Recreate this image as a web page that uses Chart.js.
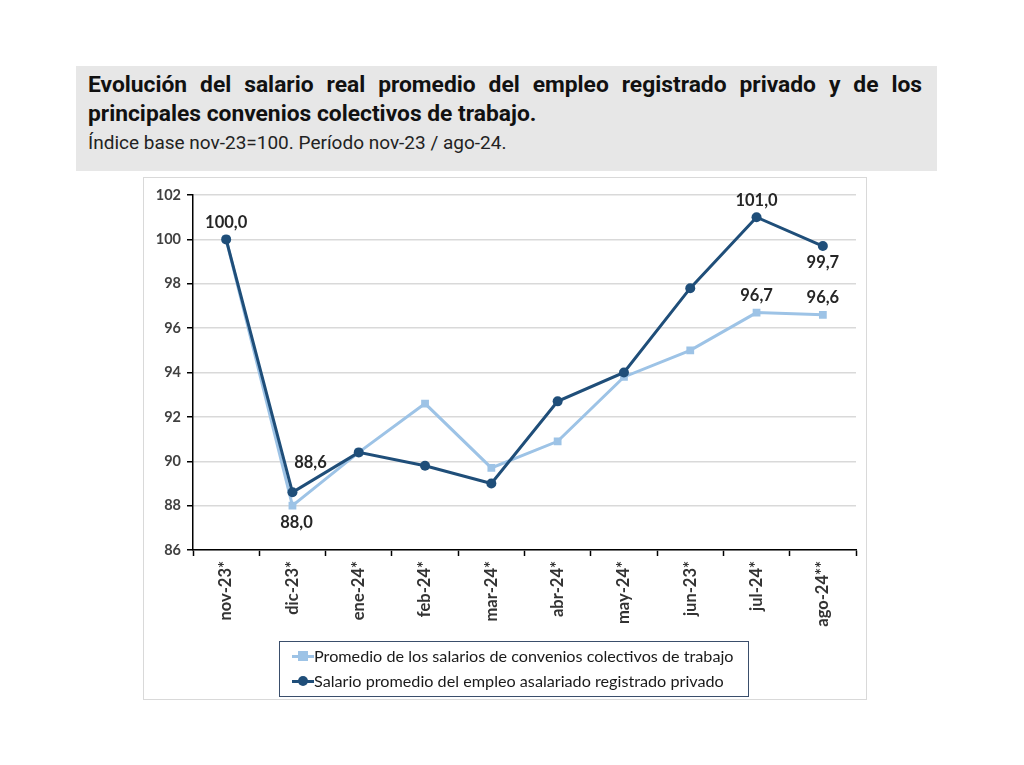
<!DOCTYPE html>
<html>
<head>
<meta charset="utf-8">
<script src="https://cdn.jsdelivr.net/npm/chart.js@4.4.1/dist/chart.umd.min.js"></script>
<style>
  body { margin: 0; background: #fff; width: 1024px; height: 765px; position: relative; overflow: hidden; }
  #header { position: absolute; left: 76px; top: 66px; width: 861px; height: 105px; background: #e7e7e7; }
  .tline { position: absolute; left: 12px; width: 834px; font: bold 22.8px Roboto, sans-serif; line-height: 29px; color: #111; white-space: nowrap; }
  #t1 { top: 4px; text-align: justify; text-align-last: justify; white-space: normal; }
  #t2 { top: 33px; }
  #subtitle { position: absolute; left: 12px; top: 65px; font: 19px Roboto, sans-serif; color: #222; }
  #frame { position: absolute; left: 143px; top: 177px; width: 722px; height: 521px; border: 1px solid #d9d9d9; }
  #chartWrap { position: absolute; left: 0; top: 0; width: 722px; height: 521px; }
  #legend { position: absolute; left: 135px; top: 463px; width: 468px; height: 54px; border: 1px solid #3a4e6b; font: 16.2px Lato, sans-serif; color: #1a1a1a; }
  .item { position: absolute; left: 12px; height: 20px; line-height: 20px; white-space: nowrap; }
  .icon { display: inline-block; position: relative; width: 22px; height: 20px; vertical-align: top; }
  .icon .ln { position: absolute; left: 0; top: 9px; width: 22px; height: 3px; }
  .icon .mk { position: absolute; left: 6px; top: 5px; width: 10px; height: 10px; }
</style>
</head>
<body>
<div id="header">
  <div id="t1" class="tline">Evolución del salario real promedio del empleo registrado privado y de los</div>
  <div id="t2" class="tline">principales convenios colectivos de trabajo.</div>
  <div id="subtitle">Índice base nov-23=100. Período nov-23 / ago-24.</div>
</div>
<div id="frame">
  <div id="chartWrap"><canvas id="lineChart"></canvas></div>
  <div id="legend">
    <div class="item" style="top:4px"><span class="icon"><span class="ln" style="background:#9dc3e6"></span><span class="mk" style="background:#9dc3e6"></span></span><span id="leg0"></span></div>
    <div class="item" style="top:29px"><span class="icon"><span class="ln" style="background:#1f4e79"></span><span class="mk" style="background:#1f4e79;border-radius:50%"></span></span><span id="leg1"></span></div>
  </div>
</div>
<script>
const months = ['nov-23*', 'dic-23*', 'ene-24*', 'feb-24*', 'mar-24*', 'abr-24*', 'may-24*', 'jun-23*', 'jul-24*', 'ago-24**'];

// convenios colectivos (light blue, squares)
const convenios = [100.0, 88.0, 90.4, 92.6, 89.7, 90.9, 93.8, 95.0, 96.7, 96.6];
// empleo asalariado registrado privado (navy, circles)
const salario = [100.0, 88.6, 90.4, 89.8, 89.0, 92.7, 94.0, 97.8, 101.0, 99.7];

const names = ['Promedio de los salarios de convenios colectivos de trabajo', 'Salario promedio del empleo asalariado registrado privado'];

// which points get a value label: [dataset, index, position]
const shownLabels = [
    [1, 0, 'above'],
    [1, 1, 'aboveRight'],
    [0, 1, 'below'],
    [1, 8, 'above'],
    [1, 9, 'below'],
    [0, 8, 'above'],
    [0, 9, 'above']
];

document.getElementById('leg0').textContent = names[0];
document.getElementById('leg1').textContent = names[1];

const valueLabels = {
    id: 'valueLabels',
    afterDatasetsDraw(chart) {
        const ctx = chart.ctx;
        ctx.save();
        ctx.font = 'bold 16.5px Lato, sans-serif';
        ctx.fillStyle = '#262626';
        ctx.textAlign = 'center';
        ctx.textBaseline = 'middle';
        shownLabels.forEach(([ds, i, pos]) => {
            const pt = chart.getDatasetMeta(ds).data[i];
            const txt = chart.data.datasets[ds].data[i].toFixed(1).replace('.', ',');
            let dx = 0, dy = -17;
            if (pos === 'below') dy = 17;
            if (pos === 'aboveRight') { dx = 18; dy = -30; }
            if (ds === 0 && i === 1) dx = 4;
            ctx.fillText(txt, pt.x + dx, pt.y + dy);
        });
        ctx.restore();
    }
};

const CHART = document.getElementById('lineChart');
let lineChart = new Chart(CHART, {
    type: 'line',
    data: {
        labels: months,
        datasets: [
            {
                label: names[0],
                data: convenios,
                order: 1,
                borderColor: '#9dc3e6',
                backgroundColor: '#9dc3e6',
                borderWidth: 3,
                pointStyle: 'rect',
                pointRadius: 5.5,
                pointBorderWidth: 0,
                tension: 0
            },
            {
                label: names[1],
                data: salario,
                order: 0,
                borderColor: '#1f4e79',
                backgroundColor: '#1f4e79',
                borderWidth: 3,
                pointStyle: 'circle',
                pointRadius: 5,
                pointBorderWidth: 0,
                tension: 0
            }
        ]
    },
    options: {
        responsive: true,
        maintainAspectRatio: false,
        animation: false,
        layout: { padding: { left: 6, top: 17, right: 10, bottom: 57 } },
        plugins: {
            legend: { display: false },
            tooltip: { enabled: false }
        },
        scales: {
            x: {
                offset: true,
                grid: { offset: true, drawOnChartArea: false, drawTicks: true, tickLength: 6, tickColor: '#000', tickWidth: 1.5 },
                border: { color: '#000', width: 1.5 },
                ticks: { minRotation: 90, maxRotation: 90, color: '#333', font: { family: 'Lato, sans-serif', size: 16.5, weight: 'bold' }, padding: 5 },
                afterFit: (scale) => { scale.height = 92; }
            },
            y: {
                min: 86,
                max: 102,
                ticks: { stepSize: 2, color: '#404040', font: { family: 'Lato, sans-serif', size: 14.5, weight: 'bold' }, padding: 6 },
                grid: { color: '#d9d9d9', lineWidth: 1.5, tickColor: '#000', tickLength: 6 },
                border: { color: '#000', width: 1.5 },
                afterFit: (scale) => { scale.width = 43; }
            }
        }
    },
    plugins: [valueLabels]
});
</script>
</body>
</html>
